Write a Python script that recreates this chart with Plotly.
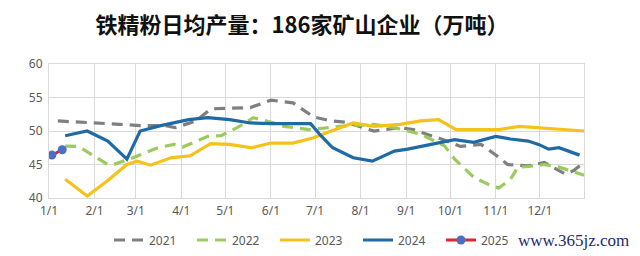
import plotly.graph_objects as go

# ---- data (dates placed in a common non-leap year, 2001) ----
d2021 = ["2001-01-07","2001-01-29","2001-02-18","2001-03-04","2001-03-21","2001-03-28","2001-04-11","2001-04-21",
         "2001-05-06","2001-05-18","2001-06-01","2001-06-16","2001-06-30","2001-07-12","2001-07-22","2001-08-10",
         "2001-08-28","2001-09-06","2001-09-11","2001-09-25","2001-10-08","2001-10-22","2001-11-03","2001-11-09",
         "2001-11-23","2001-12-04","2001-12-18","2001-12-24","2001-12-31"]
v2021 = [51.5,51.3,51.0,50.8,50.8,50.5,51.5,53.3,
         53.4,53.5,54.6,54.2,52.1,51.5,51.3,50.0,
         50.5,50.2,49.8,48.8,47.7,48.0,46.1,45.0,
         44.8,45.3,43.6,44.1,45.3]

d2022 = ["2001-01-12","2001-01-21","2001-02-10","2001-02-14","2001-02-27","2001-03-16","2001-03-27","2001-04-02",
         "2001-04-19","2001-04-28","2001-05-09","2001-05-20","2001-06-03","2001-06-10","2001-06-27","2001-07-18",
         "2001-08-10","2001-08-28","2001-09-11","2001-09-27","2001-10-04","2001-10-17","2001-10-29","2001-11-03",
         "2001-11-11","2001-11-16","2001-11-23","2001-12-04","2001-12-14","2001-12-31"]
v2022 = [47.75,47.7,45.0,45.0,46.0,47.5,48.0,47.6,
         49.2,49.3,50.5,52.0,51.2,50.7,50.2,50.7,
         51.0,50.3,49.5,47.8,45.8,43.1,41.8,41.5,
         42.8,44.6,44.7,45.0,44.6,43.4]

d2023 = ["2001-01-12","2001-01-27","2001-02-10","2001-02-23","2001-03-02","2001-03-11","2001-03-25","2001-04-07",
         "2001-04-21","2001-05-04","2001-05-19","2001-06-01","2001-06-16","2001-06-30","2001-07-12","2001-07-27",
         "2001-08-10","2001-08-28","2001-09-11","2001-09-23","2001-10-05","2001-10-20","2001-11-03","2001-11-17",
         "2001-12-02","2001-12-16","2001-12-31"]
v2023 = [42.8,40.3,42.6,45.0,45.5,44.9,46.0,46.3,
         48.1,48.0,47.5,48.2,48.2,49.0,50.0,51.2,
         50.7,51.0,51.5,51.7,50.2,50.2,50.2,50.7,
         50.5,50.2,50.0]

d2024 = ["2001-01-12","2001-01-27","2001-02-10","2001-02-23","2001-03-04","2001-03-18","2001-04-06","2001-04-19",
         "2001-05-04","2001-05-18","2001-06-01","2001-06-28","2001-07-05","2001-07-13","2001-07-27","2001-08-09",
         "2001-08-24","2001-09-02","2001-09-18","2001-10-04","2001-10-17","2001-11-01","2001-11-11","2001-11-23",
         "2001-11-30","2001-12-07","2001-12-14","2001-12-20","2001-12-28"]
v2024 = [49.3,50.0,48.5,45.8,50.0,50.8,51.7,52.0,
         51.7,51.2,51.1,51.1,49.3,47.5,46.0,45.5,
         47.0,47.3,48.0,48.7,48.3,49.2,48.8,48.5,
         48.0,47.3,47.5,47.0,46.4]

d2025 = ["2001-01-03","2001-01-10"]
v2025 = [46.4,47.2]

month_ticks = ["2001-%02d-01" % m for m in range(1, 13)]
month_labels = ["%d/1" % m for m in range(1, 13)]

fig = go.Figure()
fig.add_trace(go.Scatter(x=d2021, y=v2021, name="2021", mode="lines",
                         line=dict(color="#7f7f7f", width=3.2, dash="11px,7px")))
fig.add_trace(go.Scatter(x=d2022, y=v2022, name="2022", mode="lines",
                         line=dict(color="#9acb5c", width=3.2, dash="11px,7px")))
fig.add_trace(go.Scatter(x=d2023, y=v2023, name="2023", mode="lines",
                         line=dict(color="#f5c21b", width=3.2)))
fig.add_trace(go.Scatter(x=d2024, y=v2024, name="2024", mode="lines",
                         line=dict(color="#1f6aa5", width=3.2)))
fig.add_trace(go.Scatter(x=d2025, y=v2025, name="2025", mode="lines+markers",
                         line=dict(color="#e0262d", width=3),
                         marker=dict(color="#4a6fc4", size=9)))

fig.update_layout(
    width=640, height=256,
    margin=dict(l=49, r=56, t=64, b=58, autoexpand=False),
    paper_bgcolor="white", plot_bgcolor="white",
    font=dict(family="Noto Sans, Noto Sans CJK SC", size=12, color="#595959"),
    title=dict(text="<b>铁精粉日均产量：186家矿山企业（万吨）</b>",
               font=dict(family="Noto Sans CJK SC", size=22, color="#111111"),
               x=302/640, xanchor="center", y=1-25/256, yanchor="middle"),
    xaxis=dict(type="date", range=["2001-01-01", "2001-12-31"],
               tickvals=month_ticks, ticktext=month_labels,
               showgrid=True, gridcolor="#d9d9d9", gridwidth=1,
               showline=True, linecolor="#d9d9d9", mirror=True,
               ticks="", zeroline=False, ticklabelstandoff=2,
               tickfont=dict(size=12, color="#595959")),
    yaxis=dict(range=[40, 60], tickvals=[40, 45, 50, 55, 60],
               showgrid=True, gridcolor="#d9d9d9", gridwidth=1,
               showline=True, linecolor="#d9d9d9", mirror=True,
               ticks="", zeroline=False, ticklabelstandoff=3,
               tickfont=dict(size=12, color="#595959")),
    showlegend=True,
    legend=dict(orientation="h", xref="container", yref="container",
                x=109/640, xanchor="left", y=1-240/256, yanchor="middle",
                font=dict(size=12, color="#595959"), itemwidth=30,
                entrywidth=38, bgcolor="rgba(0,0,0,0)"),
    annotations=[dict(text="www.365jz.com", xref="paper", yref="paper",
                      x=(516-49)/535, y=(198-240)/134, xanchor="left", yanchor="middle",
                      showarrow=False,
                      font=dict(family="Liberation Serif", size=17, color="#1c2d6e"))],
)

fig.write_html("out.html")
